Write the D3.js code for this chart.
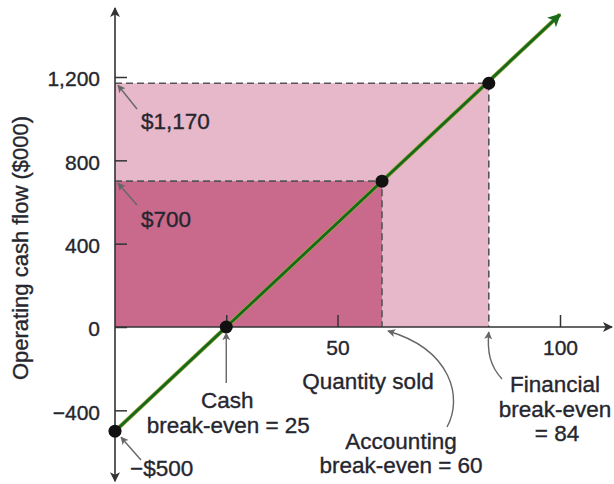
<!DOCTYPE html>
<html>
<head>
<meta charset="utf-8">
<script src="https://cdn.jsdelivr.net/npm/d3@7"></script>
<style>
  html, body { margin: 0; padding: 0; background: #fff; }
  svg { display: block; }
  text { font-family: "Liberation Sans", Arial, Helvetica, sans-serif; fill: #26262e; stroke: #26262e; stroke-width: 0.35px; }
</style>
</head>
<body>
<svg id="chart" width="614" height="484"></svg>
<script>
// ---- Data ----
const breakEvenNames = ["Cash", "Accounting", "Financial"];
const breakEvenQty = [25, 60, 84];
const breakEvenCash = [0, 700, 1170];
const lineQty = [0, 100];
const lineCash = [-500, 1500];
const pointQty = [0, 25, 60, 84];
const pointCash = [-500, 0, 700, 1170];
const yTickValues = [-400, 0, 400, 800, 1200];
const yTickLabels = ["\u2212400", "0", "400", "800", "1,200"];
const xTickValues = [25, 50, 100];
const xTickLabels = ["", "50", "100"];

// ---- Scales ----
const svg = d3.select("#chart");
const x = d3.scaleLinear().domain([0, 100]).range([115, 560]);
const y = d3.scaleLinear().domain([0, 1200]).range([327, 77]);

const defs = svg.append("defs");
function marker(id, color, w, h) {
  defs.append("marker").attr("id", id).attr("viewBox", "0 0 10 10")
    .attr("refX", 9).attr("refY", 5).attr("markerWidth", w).attr("markerHeight", h)
    .attr("orient", "auto-start-reverse").attr("markerUnits", "userSpaceOnUse")
    .append("path").attr("d", "M0,0 L10,5 L0,10 L2.5,5 Z").attr("fill", color);
}
marker("axArrow", "#333", 10, 10);
marker("grArrow", "#1b6b1b", 18, 13);
marker("ldArrow", "#666", 8, 8);

// ---- Shaded regions ----
svg.append("rect")
  .attr("x", x(0)).attr("y", y(breakEvenCash[2]))
  .attr("width", x(breakEvenQty[2]) - x(0)).attr("height", y(0) - y(breakEvenCash[2]))
  .attr("fill", "#e6b8c9");
svg.append("rect")
  .attr("x", x(0)).attr("y", y(breakEvenCash[1]))
  .attr("width", x(breakEvenQty[1]) - x(0)).attr("height", y(0) - y(breakEvenCash[1]))
  .attr("fill", "#c9698c");

// ---- Dashed guides ----
[1, 2].forEach(i => {
  svg.append("path")
    .attr("d", `M${x(0)},${y(breakEvenCash[i])} H${x(breakEvenQty[i])} V${y(0)}`)
    .attr("fill", "none").attr("stroke", "#555").attr("stroke-width", 1.6)
    .attr("stroke-dasharray", "7,4");
});

// ---- Axes ----
const yAxis = d3.axisLeft(y).tickValues(yTickValues)
  .tickFormat((d, i) => yTickLabels[i]).tickSizeInner(-12).tickSizeOuter(0).tickPadding(15);
const gy = svg.append("g").attr("transform", `translate(${x(0)},0)`).call(yAxis);
gy.select(".domain").remove();
gy.selectAll(".tick line").attr("stroke", "#333").attr("stroke-width", 1.5);
gy.selectAll(".tick text").attr("font-size", 21).attr("fill", "#26262e")
  .attr("font-family", "Liberation Sans, Arial, sans-serif").attr("dy", "0.42em");

const xAxis = d3.axisBottom(x).tickValues(xTickValues)
  .tickFormat((d, i) => xTickLabels[i]).tickSizeInner(-12).tickSizeOuter(0).tickPadding(13);
const gx = svg.append("g").attr("transform", `translate(0,${y(0)})`).call(xAxis);
gx.select(".domain").remove();
gx.selectAll(".tick line").attr("stroke", "#333").attr("stroke-width", 1.5);
gx.selectAll(".tick text").attr("font-size", 21).attr("fill", "#26262e")
  .attr("font-family", "Liberation Sans, Arial, sans-serif");

// axis lines with arrows
svg.append("line").attr("x1", x(0)).attr("x2", x(0)).attr("y1", y(-500) + 50).attr("y2", 8)
  .attr("stroke", "#333").attr("stroke-width", 1.6)
  .attr("marker-start", "url(#axArrow)").attr("marker-end", "url(#axArrow)");
svg.append("line").attr("x1", x(0)).attr("x2", 612).attr("y1", y(0)).attr("y2", y(0))
  .attr("stroke", "#333").attr("stroke-width", 1.6).attr("marker-end", "url(#axArrow)");

// ---- Cash-flow line ----
const lineData = lineQty.map((q, i) => [q, lineCash[i]]);
const lineGen = d3.line().x(d => x(d[0])).y(d => y(d[1]));
svg.append("path").datum(lineData).attr("d", lineGen)
  .attr("fill", "none").attr("stroke", "#a7a53a").attr("stroke-width", 4.2);
svg.append("path").datum(lineData).attr("d", lineGen)
  .attr("fill", "none").attr("stroke", "#136a1c").attr("stroke-width", 2.8)
  .attr("marker-end", "url(#grArrow)");

// ---- Points ----
svg.selectAll("circle.pt").data(pointQty.map((q, i) => [q, pointCash[i]])).enter()
  .append("circle").attr("class", "pt")
  .attr("cx", d => x(d[0])).attr("cy", d => y(d[1])).attr("r", 6.5).attr("fill", "#111");

// ---- Annotations ----
const fs = 22.5;
function txt(t, xx, yy, anchor) {
  svg.append("text").attr("x", xx).attr("y", yy).attr("text-anchor", anchor || "start")
    .attr("font-size", fs).text(t);
}
function leader(d) {
  svg.append("path").attr("d", d).attr("fill", "none").attr("stroke", "#666")
    .attr("stroke-width", 1.4).attr("marker-end", "url(#ldArrow)");
}

// value labels on y axis
txt("$1,170", 141, 129);
leader(`M137,109 L${x(0) + 3},${y(breakEvenCash[2]) + 2}`);
txt("$700", 141, 227);
leader(`M137,205 L${x(0) + 3},${y(breakEvenCash[1]) + 2}`);
txt("\u2212$500", 130, 476);
leader(`M141,460 L${x(0) + 6},${y(-500) + 6}`);

// Cash break-even
txt(breakEvenNames[0], x(breakEvenQty[0]) + 1, 408, "middle");
txt("break-even = " + breakEvenQty[0], x(breakEvenQty[0]) + 2, 433, "middle");
leader(`M${x(breakEvenQty[0])},383 L${x(breakEvenQty[0])},${y(0) + 6}`);

// Axis title
txt("Quantity sold", 368, 389, "middle");

// Accounting break-even
txt(breakEvenNames[1], 401, 449, "middle");
txt("break-even = " + breakEvenQty[1], 401, 473, "middle");
leader(`M447,427 C463,398 452,350 ${x(breakEvenQty[1]) + 6},${y(0) + 4}`);

// Financial break-even
txt(breakEvenNames[2], 555, 392, "middle");
txt("break-even", 555, 417, "middle");
txt("= " + breakEvenQty[2], 557, 441, "middle");
leader(`M502,379 C490,366 487,352 ${x(breakEvenQty[2])},${y(0) + 5}`);

// Y axis title
svg.append("text").attr("transform", "translate(28,248) rotate(-90)")
  .attr("text-anchor", "middle").attr("font-size", 22).text("Operating cash flow ($000)");
</script>
</body>
</html>
